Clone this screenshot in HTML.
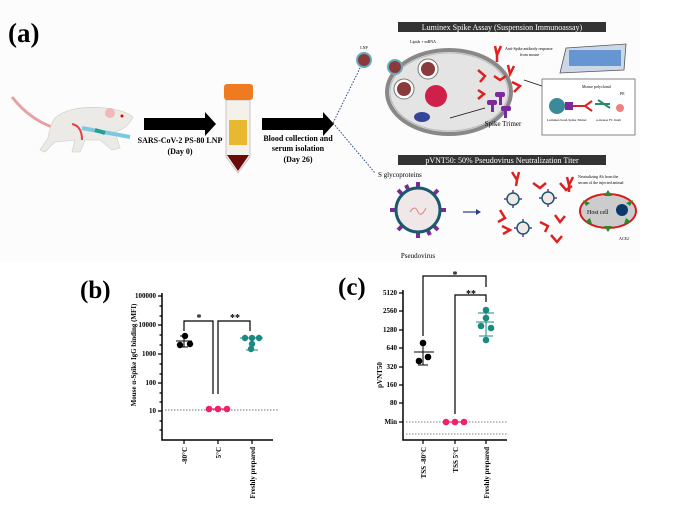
<!DOCTYPE html>
<html><head><meta charset="utf-8"><style>
html,body{margin:0;padding:0;background:#fff}
svg{display:block}
text{font-family:"Liberation Serif",serif}
</style></head><body>
<svg width="696" height="513" viewBox="0 0 696 513" xmlns="http://www.w3.org/2000/svg">
<rect width="696" height="513" fill="#fff"/>
<rect x="0" y="0" width="640" height="262" fill="#fcfcfc"/>
<text x="8" y="42" font-size="27" font-weight="bold">(a)</text>
<!-- mouse -->
<path d="M12,97 Q30,120 55,128" stroke="#e8a0a0" stroke-width="3" fill="none"/>
<path d="M55,118 Q70,105 105,108 Q125,110 133,117 Q128,128 115,132 L120,148 L112,150 L100,140 L85,140 L80,152 L72,152 L75,140 L55,142 L45,152 L40,150 L48,138 Q50,125 55,118Z" fill="#eceae6" stroke="#d8d4cc" stroke-width="0.8"/>
<circle cx="110" cy="113" r="5" fill="#f0b8b8"/>
<circle cx="122" cy="116" r="1.5" fill="#d00"/>
<path d="M72,124 Q82,126 82,140" stroke="#d44" stroke-width="2" fill="none"/>
<path d="M82,128 L130,137" stroke="#7cc8e0" stroke-width="4"/>
<path d="M95,130 L105,133" stroke="#20a090" stroke-width="4"/>
<!-- arrow 1 -->
<path d="M144,118 L205,118 L205,112 L216,124 L205,136 L205,130 L144,130Z" fill="#000"/>
<text x="180" y="143" font-size="8" font-weight="bold" text-anchor="middle">SARS-CoV-2 PS-80 LNP</text>
<text x="180" y="154" font-size="8" font-weight="bold" text-anchor="middle">(Day 0)</text>
<!-- tube -->
<path d="M226,100 L250,100 L250,157 L238,173 L226,157Z" fill="#f4f0ea" stroke="#bbb" stroke-width="0.8"/>
<rect x="229" y="120" width="18" height="25" fill="#e8b830"/>
<path d="M227,155 L249,155 L238,171Z" fill="#6a0a0a"/>
<rect x="224" y="84" width="29" height="16" rx="3" fill="#f07a20"/>
<!-- arrow 2 -->
<path d="M262,118 L323,118 L323,112 L334,124 L323,136 L323,130 L262,130Z" fill="#000"/>
<text x="298" y="141" font-size="8" font-weight="bold" text-anchor="middle">Blood collection and</text>
<text x="298" y="151" font-size="8" font-weight="bold" text-anchor="middle">serum isolation</text>
<text x="298" y="162" font-size="8" font-weight="bold" text-anchor="middle">(Day 26)</text>
<path d="M333,123 L362,64" stroke="#2a4a8a" stroke-dasharray="1.5,1.5" fill="none"/>
<path d="M333,123 L375,173" stroke="#2a4a8a" stroke-dasharray="1.5,1.5" fill="none"/>
<!-- Luminex -->
<rect x="398" y="22" width="208" height="10" fill="#333"/>
<text x="502" y="30" font-size="8" fill="#fff" text-anchor="middle">Luminex Spike Assay (Suspension Immunoassay)</text>
<circle cx="364" cy="60" r="7" fill="#8a3a3a" stroke="#6ab" stroke-width="2"/>
<text x="364" y="49" font-size="4" text-anchor="middle">LNP</text>
<text x="410" y="43" font-size="4">Lipids + mRNA</text>
<ellipse cx="449" cy="92" rx="62" ry="42" fill="#e4e4e4" stroke="#888" stroke-width="4"/>
<ellipse cx="449" cy="92" rx="59" ry="39" fill="none" stroke="#bbb" stroke-width="1"/>
<circle cx="428" cy="69" r="10" fill="#fff" stroke="#777"/>
<circle cx="428" cy="69" r="7" fill="#8a3a3a"/>
<circle cx="395" cy="67" r="7" fill="#8a3a3a" stroke="#6ab" stroke-width="2"/>
<circle cx="404" cy="89" r="10" fill="#fff" stroke="#777"/>
<circle cx="404" cy="89" r="7" fill="#8a3a3a"/>
<circle cx="436" cy="96" r="11" fill="#d0204a"/>
<ellipse cx="422" cy="117" rx="8" ry="5" fill="#334499"/>
<!-- antibodies -->
<g stroke="#e02020" stroke-width="2.5" fill="none">
<path d="M495,46 L497,55 L501,46 M497,55 L497,62"/>
<path d="M478,70 L485,76 L480,82"/><path d="M508,65 L510,74 L514,66"/>
<path d="M478,90 L484,94 L478,99"/><path d="M512,82 L520,86 L514,92"/>
<path d="M494,76 L500,80 L506,76"/>
</g>
<g fill="#7a2a9a"><rect x="495" y="92" width="10" height="5" rx="2"/><rect x="499" y="97" width="3" height="8"/><rect x="487" y="100" width="10" height="5" rx="2"/><rect x="491" y="105" width="3" height="7"/><rect x="501" y="106" width="10" height="5" rx="2"/><rect x="504" y="111" width="3" height="7"/></g>
<text x="503" y="126" font-size="7" text-anchor="middle">Spike Trimer</text>
<text x="505" y="50" font-size="4">Anti-Spike antibody response</text>
<text x="520" y="56" font-size="4">from mouse</text>
<path d="M524,80 L560,92 M450,118 L485,108" stroke="#111" stroke-width="0.8"/>
<path d="M566,48 L626,44 L624,70 L560,73Z" fill="#ccd8e8" stroke="#555" stroke-width="0.8"/>
<g fill="#3a7ac8"><rect x="569" y="50" width="52" height="16" opacity="0.7"/></g>
<rect x="542" y="79" width="93" height="56" fill="#fff" stroke="#666" stroke-width="0.8"/>
<circle cx="557" cy="106" r="8" fill="#3a8a9a"/>
<rect x="565" y="102" width="8" height="8" fill="#7a2a9a"/>
<path d="M573,106 L585,106 M585,106 L592,101 M585,106 L592,111" stroke="#e02020" stroke-width="2" fill="none"/>
<path d="M595,104 L610,104 M598,100 L610,108" stroke="#2a8a6a" stroke-width="2"/>
<circle cx="620" cy="108" r="4" fill="#f08080"/>
<text x="582" y="88" font-size="4">Mouse polyclonal</text>
<text x="620" y="95" font-size="4">PE</text>
<text x="547" y="121" font-size="3.5">Luminex bead-Spike Trimer</text>
<text x="596" y="121" font-size="3.5">α-mouse FC mAb</text>
<!-- pVNT50 -->
<rect x="398" y="155" width="208" height="10" fill="#333"/>
<text x="502" y="163" font-size="8" fill="#fff" text-anchor="middle">pVNT50: 50% Pseudovirus Neutralization Titer</text>
<text x="378" y="177" font-size="7">S glycoproteins</text>
<g stroke="#7a2a9a" stroke-width="4">
<path d="M418,210 L418,182 M418,210 L418,238 M418,210 L390,210 M418,210 L446,210 M418,210 L398,190 M418,210 L438,190 M418,210 L398,230 M418,210 L438,230 M418,210 L406,185 M418,210 L430,235"/></g>
<circle cx="418" cy="210" r="22" fill="#f0e8e8" stroke="#1a5a6a" stroke-width="3"/>
<path d="M410,212 Q415,204 418,212 Q421,218 426,208" stroke="#e08080" fill="none"/>
<text x="418" y="258" font-size="7" text-anchor="middle">Pseudovirus</text>
<path d="M463,212 L478,212" stroke="#2a3a8a" stroke-width="1.2"/><path d="M476,209 L481,212 L476,215Z" fill="#2a3a8a"/>
<g stroke="#7a2a9a" stroke-width="1.5"><path d="M513,190 L513,208 M504,199 L522,199 M548,189 L548,207 M539,198 L557,198 M523,219 L523,237 M514,228 L532,228"/></g>
<g fill="#f0e8e8" stroke="#1a5a6a" stroke-width="1.5"><circle cx="513" cy="199" r="6"/><circle cx="548" cy="198" r="6"/><circle cx="523" cy="228" r="6"/></g>
<g stroke="#e02020" stroke-width="2.5" fill="none">
<path d="M512,172 L517,180 M517,180 L519,172 M517,180 L516,186"/>
<path d="M533,183 L540,188 L546,183"/><path d="M500,210 L505,218 L498,222"/>
<path d="M560,183 L566,190 L572,186"/><path d="M502,226 L510,230 L503,234"/>
<path d="M540,222 L548,226 L545,232"/><path d="M555,215 L560,222 L565,216"/>
<path d="M551,235 L557,242 L562,236"/>
<path d="M567,177 L569,185 L573,177 M569,185 L569,192"/>
</g>
<text x="578" y="178" font-size="4">Neutralizing Ab from the</text>
<text x="578" y="184" font-size="4">serum of the injected animal</text>
<ellipse cx="608" cy="211" rx="28" ry="17" fill="#ccc" stroke="#d02020" stroke-width="2"/>
<circle cx="622" cy="210" r="6" fill="#0a3a6a"/>
<text x="587" y="214" font-size="6">Host cell</text>
<g fill="#2a8a2a"><path d="M608,190 L612,196 L604,196Z"/><path d="M608,232 L612,226 L604,226Z"/><path d="M583,200 L590,203 L586,206Z"/><path d="M633,200 L626,203 L630,206Z"/><path d="M585,222 L590,218 L592,224Z"/><path d="M631,222 L626,218 L624,224Z"/></g>
<text x="619" y="240" font-size="4">ACE2</text>

<!-- (b) -->
<text x="80" y="298" font-size="25" font-weight="bold">(b)</text>
<path d="M162,293 L162,440 L273,440" stroke="#000" stroke-width="1.5" fill="none"/>
<g stroke="#000" stroke-width="1.2">
<path d="M158,296 L162,296 M158,325 L162,325 M158,354 L162,354 M158,383 L162,383 M158,411 L162,411"/>
<path d="M159.5,306 L162,306 M159.5,316 L162,316 M159.5,335 L162,335 M159.5,345 L162,345 M159.5,364 L162,364 M159.5,374 L162,374 M159.5,393 L162,393 M159.5,402 L162,402 M159.5,421 L162,421 M159.5,430 L162,430"/>
<path d="M184,440 L184,444 M218,440 L218,444 M252,440 L252,444"/></g>
<g font-size="7" font-weight="bold" text-anchor="end">
<text x="156" y="298">100000</text><text x="156" y="327">10000</text><text x="156" y="356">1000</text><text x="156" y="385">100</text><text x="156" y="413">10</text></g>
<text transform="translate(136,355) rotate(-90)" font-size="7" font-weight="bold" text-anchor="middle">Mouse α-Spike IgG binding (MFI)</text>
<g font-size="7" font-weight="bold" text-anchor="end">
<text transform="translate(187,447) rotate(-90)">-80°C</text>
<text transform="translate(221,447) rotate(-90)">5°C</text>
<text transform="translate(255,447) rotate(-90)">Freshly prepared</text></g>
<path d="M165,410 L278,410" stroke="#444" stroke-width="0.7" stroke-dasharray="1.5,1.5"/>
<g stroke="#000" stroke-width="1.2" fill="none">
<path d="M184,331 L184,321 L213,321 L213,394"/>
<path d="M218,394 L218,321 L250,321 L250,331"/></g>
<text x="199" y="321" font-size="10" font-weight="bold" text-anchor="middle">*</text>
<text x="235" y="321" font-size="10" font-weight="bold" text-anchor="middle">**</text>
<path d="M176,341 L192,341 M184,336 L184,347 M180,336 L188,336 M180,347 L188,347" stroke="#000"/>
<g fill="#000"><circle cx="185" cy="336" r="3.2"/><circle cx="180" cy="345" r="3.2"/><circle cx="190" cy="344" r="3.2"/></g>
<path d="M240,338 L263,338 M252,338 L252,350 M246,350 L258,350" stroke="#1a8a80"/>
<g fill="#1a8a80"><circle cx="245" cy="338" r="3.2"/><circle cx="259" cy="338" r="3.2"/><circle cx="252" cy="338" r="3.2"/><circle cx="252" cy="344" r="3.2"/><circle cx="251" cy="349" r="3.2"/></g>
<path d="M209,409 L227,409" stroke="#f0206a" stroke-width="1.2"/>
<g fill="#f0206a"><circle cx="209" cy="409" r="3.3"/><circle cx="218" cy="409" r="3.3"/><circle cx="227" cy="409" r="3.3"/></g>

<!-- (c) -->
<text x="338" y="295" font-size="25" font-weight="bold">(c)</text>
<path d="M403,290 L403,440 L507,440" stroke="#000" stroke-width="1.5" fill="none"/>
<g stroke="#000" stroke-width="1.2">
<path d="M399,293 L403,293 M399,311 L403,311 M399,330 L403,330 M399,348 L403,348 M399,367 L403,367 M399,385 L403,385 M399,403 L403,403 M399,422 L403,422"/>
<path d="M423,440 L423,444 M455,440 L455,444 M486,440 L486,444"/></g>
<g font-size="7" font-weight="bold" text-anchor="end">
<text x="397" y="295">5120</text><text x="397" y="313">2560</text><text x="397" y="332">1280</text><text x="397" y="350">640</text><text x="397" y="369">320</text><text x="397" y="387">160</text><text x="397" y="405">80</text><text x="397" y="424">Min</text></g>
<text transform="translate(382,375) rotate(-90)" font-size="7" font-weight="bold" text-anchor="middle">pVNT50</text>
<g font-size="7" font-weight="bold" text-anchor="end">
<text transform="translate(426,447) rotate(-90)">TSS -80°C</text>
<text transform="translate(458,447) rotate(-90)">TSS 5°C</text>
<text transform="translate(489,447) rotate(-90)">Freshly prepared</text></g>
<path d="M406,422 L507,422 M406,434 L507,434" stroke="#555" stroke-width="0.7" stroke-dasharray="1.5,1.5"/>
<g stroke="#000" stroke-width="1.2" fill="none">
<path d="M423,336 L423,276 L486,276 L486,287"/>
<path d="M455,414 L455,295 L486,295 L486,302"/></g>
<text x="455" y="278" font-size="10" font-weight="bold" text-anchor="middle">*</text>
<text x="471" y="297" font-size="10" font-weight="bold" text-anchor="middle">**</text>
<path d="M414,352 L434,352 M423,343 L423,365 M418,365 L428,365" stroke="#000"/>
<g fill="#000"><circle cx="423" cy="343" r="3.3"/><circle cx="419" cy="361" r="3.3"/><circle cx="428" cy="357" r="3.3"/></g>
<path d="M476,322 L494,322 M478,313 L494,313 M486,313 L486,336 M479,336 L493,336" stroke="#1a8a80"/>
<g fill="#1a8a80"><circle cx="486" cy="310" r="3.3"/><circle cx="486" cy="318" r="3.3"/><circle cx="481" cy="326" r="3.3"/><circle cx="491" cy="328" r="3.3"/><circle cx="486" cy="340" r="3.3"/></g>
<path d="M446,422 L464,422" stroke="#f0206a" stroke-width="1.2"/>
<g fill="#f0206a"><circle cx="446" cy="422" r="3.3"/><circle cx="455" cy="422" r="3.3"/><circle cx="464" cy="422" r="3.3"/></g>
</svg>
</body></html>
